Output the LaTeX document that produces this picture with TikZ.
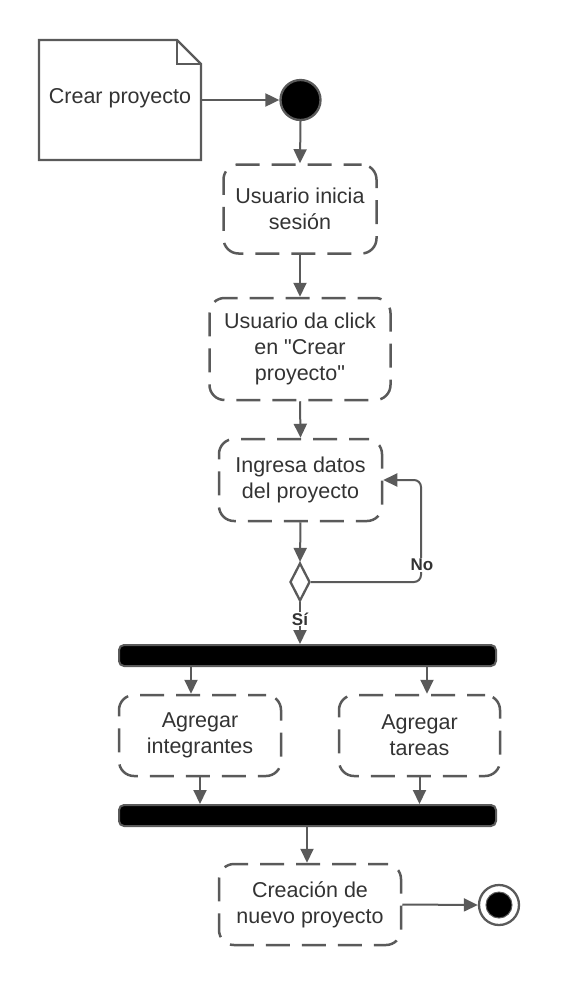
\documentclass[tikz,border=0pt]{standalone}
\usepackage{fontspec}
\newfontfamily\lsans{Liberation Sans}
\usetikzlibrary{arrows.meta,shapes.geometric}
\definecolor{ln}{HTML}{5A5A5A}
\definecolor{tx}{HTML}{333333}
\begin{document}
\begin{tikzpicture}[x=1pt,y=-1pt,
  act/.style={draw=ln, line width=2.5pt, dash pattern=on 24pt off 12pt, dash phase=6pt, rounded corners=15pt,
    align=center, font=\lsans\fontsize{21.5}{26}\selectfont, text=tx, inner sep=0pt},
  arr/.style={draw=ln, line width=2pt, -{Triangle[length=14pt,width=13pt]}},
  barstyle/.style={draw=ln, line width=2pt, fill=black, rounded corners=5pt, minimum width=377pt, minimum height=21pt, inner sep=0pt},
  lbl/.style={font=\lsans\fontsize{17}{20}\selectfont\bfseries, text=tx, fill=white, inner sep=1pt}
]
\useasboundingbox (0,0) rectangle (560,986);
% note
\draw[draw=ln, line width=2.3pt, fill=white] (39,40) -- (177,40) -- (201,64) -- (201,160) -- (39,160) -- cycle;
\draw[draw=ln, line width=2.3pt] (177,40) -- (177,64) -- (201,64);
\node[minimum width=162pt, minimum height=120pt, inner sep=0pt] (note) at (120,100) {};
\node[font=\lsans\fontsize{21.5}{26}\selectfont, text=tx] (notetext) at (120,98) {Crear proyecto};
% start
\node[circle, draw=ln, line width=2.3pt, fill=black, minimum size=40pt, inner sep=0pt] (start) at (300.5,100) {};
% activities
\node[act, minimum width=153pt, minimum height=89pt] (b1) at (300,209) {Usuario inicia\\sesión};
\node[act, minimum width=181pt, minimum height=102pt] (b2) at (300,349) {Usuario da click\\en "Crear\\proyecto"};
\node[act, minimum width=163pt, minimum height=82pt] (b3) at (300.5,480) {Ingresa datos\\del proyecto};
\node[diamond, draw=ln, line width=2.3pt, fill=white, minimum width=20pt, minimum height=38pt, inner sep=0pt] (dia) at (300,582) {};
\node[barstyle] (bar1) at (307.5,655.5) {};
\node[act, minimum width=162pt, minimum height=81pt] (b4) at (200,735.5) {Agregar\\integrantes};
\node[act, minimum width=161pt, minimum height=81pt] (b5) at (419.5,735.5) {Agregar\\tareas};
\node[barstyle] (bar2) at (307.5,815.5) {};
\node[act, minimum width=182pt, minimum height=81pt] (b6) at (310,904.5) {Creación de\\nuevo proyecto};
\node[circle, draw=ln, line width=2.3pt, fill=white, minimum size=40pt, inner sep=0pt] (endo) at (499,905) {};
\node[circle, fill=black, draw=ln, line width=1pt, minimum size=26pt, inner sep=0pt] (endi) at (499,905) {};
% connectors
\draw[arr] (note.east) -- (start.west);
\draw[arr] (start.south) -- (b1.north);
\draw[arr] (b1.south) -- (b2.north);
\draw[arr] (b2.south) -- (b3.north);
\draw[arr] (b3.south) -- (dia.north);
\draw[arr, rounded corners=7pt] (dia.east) -- (421,582) -- (421,480) -- (b3.east);
\node[lbl] (no) at (422,565) {No};
\draw[arr] (dia.south) -- (dia.south |- bar1.north);
\node[lbl] (si) at (300,619) {Sí};
\draw[arr] ([xshift=-9pt]b4.north |- bar1.south) -- ([xshift=-9pt]b4.north);
\draw[arr] ([xshift=7.5pt]b5.north |- bar1.south) -- ([xshift=7.5pt]b5.north);
\draw[arr] (b4.south) -- (b4.south |- bar2.north);
\draw[arr] (b5.south) -- (b5.south |- bar2.north);
\draw[arr] ([xshift=-3pt]b6.north |- bar2.south) -- ([xshift=-3pt]b6.north);
\draw[arr] (b6.east) -- (endo.west);
\end{tikzpicture}
\end{document}
